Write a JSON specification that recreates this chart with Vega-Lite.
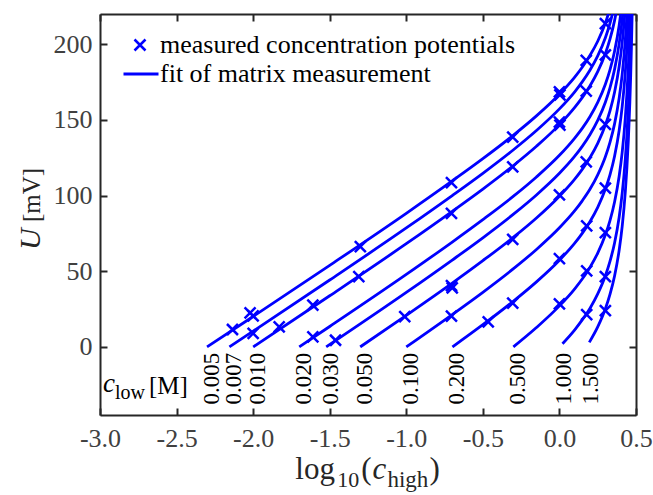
{
  "$schema": "https://vega.github.io/schema/vega-lite/v6.json",
  "width": 536,
  "height": 401,
  "autosize": {"type": "none"},
  "padding": {"left": 100, "top": 14, "right": 17, "bottom": 80},
  "background": "white",
  "datasets": {
    "fits": [
      {"c":"0.005","x":-2.301,"U":0},{"c":"0.005","x":-2.0,"U":20.1},{"c":"0.005","x":-1.5,"U":53.9},{"c":"0.005","x":-1.0,"U":88.3},{"c":"0.005","x":-0.7,"U":109.7},{"c":"0.005","x":-0.5,"U":124.4},{"c":"0.005","x":-0.3,"U":140.0},{"c":"0.005","x":-0.15,"U":152.7},{"c":"0.005","x":0,"U":167.0},{"c":"0.005","x":0.1,"U":178.3},{"c":"0.005","x":0.15,"U":185.0},{"c":"0.005","x":0.2,"U":192.7},{"c":"0.005","x":0.25,"U":202.0},{"c":"0.005","x":0.3,"U":214.0},{"c":"0.005","x":0.33,"U":223.5},
      {"c":"0.007","x":-2.155,"U":0},{"c":"0.007","x":-2.0,"U":10.4},{"c":"0.007","x":-1.5,"U":44.2},{"c":"0.007","x":-1.0,"U":78.6},{"c":"0.007","x":-0.7,"U":100.0},{"c":"0.007","x":-0.5,"U":114.7},{"c":"0.007","x":-0.3,"U":130.3},{"c":"0.007","x":-0.15,"U":143.0},{"c":"0.007","x":0,"U":157.3},{"c":"0.007","x":0.1,"U":168.6},{"c":"0.007","x":0.15,"U":175.3},{"c":"0.007","x":0.2,"U":183.0},{"c":"0.007","x":0.25,"U":192.3},{"c":"0.007","x":0.3,"U":204.3},{"c":"0.007","x":0.33,"U":213.8},{"c":"0.007","x":0.36,"U":226.0},
      {"c":"0.010","x":-2.0,"U":0},{"c":"0.010","x":-1.5,"U":33.8},{"c":"0.010","x":-1.0,"U":68.2},{"c":"0.010","x":-0.7,"U":89.6},{"c":"0.010","x":-0.5,"U":104.3},{"c":"0.010","x":-0.3,"U":119.9},{"c":"0.010","x":-0.15,"U":132.6},{"c":"0.010","x":0,"U":146.9},{"c":"0.010","x":0.1,"U":158.3},{"c":"0.010","x":0.15,"U":164.9},{"c":"0.010","x":0.2,"U":172.6},{"c":"0.010","x":0.25,"U":181.9},{"c":"0.010","x":0.3,"U":193.9},{"c":"0.010","x":0.33,"U":203.4},{"c":"0.010","x":0.36,"U":215.6},{"c":"0.010","x":0.39,"U":232.6},
      {"c":"0.020","x":-1.699,"U":0},{"c":"0.020","x":-1.5,"U":13.5},{"c":"0.020","x":-1.0,"U":47.9},{"c":"0.020","x":-0.7,"U":69.3},{"c":"0.020","x":-0.5,"U":84.1},{"c":"0.020","x":-0.3,"U":99.6},{"c":"0.020","x":-0.15,"U":112.3},{"c":"0.020","x":0,"U":126.6},{"c":"0.020","x":0.1,"U":138.0},{"c":"0.020","x":0.15,"U":144.6},{"c":"0.020","x":0.2,"U":152.3},{"c":"0.020","x":0.25,"U":161.6},{"c":"0.020","x":0.3,"U":173.6},{"c":"0.020","x":0.33,"U":183.1},{"c":"0.020","x":0.36,"U":195.4},{"c":"0.020","x":0.39,"U":212.4},{"c":"0.020","x":0.41,"U":228.3},
      {"c":"0.030","x":-1.523,"U":0},{"c":"0.030","x":-1.0,"U":36.0},{"c":"0.030","x":-0.7,"U":57.4},{"c":"0.030","x":-0.5,"U":72.1},{"c":"0.030","x":-0.3,"U":87.7},{"c":"0.030","x":-0.15,"U":100.4},{"c":"0.030","x":0,"U":114.7},{"c":"0.030","x":0.1,"U":126.0},{"c":"0.030","x":0.15,"U":132.7},{"c":"0.030","x":0.2,"U":140.4},{"c":"0.030","x":0.25,"U":149.7},{"c":"0.030","x":0.3,"U":161.7},{"c":"0.030","x":0.33,"U":171.2},{"c":"0.030","x":0.36,"U":183.4},{"c":"0.030","x":0.39,"U":200.4},{"c":"0.030","x":0.41,"U":216.3},{"c":"0.030","x":0.43,"U":238.7},
      {"c":"0.050","x":-1.301,"U":0},{"c":"0.050","x":-1.0,"U":20.9},{"c":"0.050","x":-0.7,"U":42.2},{"c":"0.050","x":-0.5,"U":57.0},{"c":"0.050","x":-0.3,"U":72.5},{"c":"0.050","x":-0.15,"U":85.2},{"c":"0.050","x":0,"U":99.6},{"c":"0.050","x":0.1,"U":110.9},{"c":"0.050","x":0.15,"U":117.5},{"c":"0.050","x":0.2,"U":125.2},{"c":"0.050","x":0.25,"U":134.5},{"c":"0.050","x":0.3,"U":146.6},{"c":"0.050","x":0.33,"U":156.0},{"c":"0.050","x":0.36,"U":168.3},{"c":"0.050","x":0.39,"U":185.3},{"c":"0.050","x":0.41,"U":201.2},{"c":"0.050","x":0.43,"U":223.5},
      {"c":"0.100","x":-1.0,"U":0},{"c":"0.100","x":-0.7,"U":21.4},{"c":"0.100","x":-0.5,"U":36.1},{"c":"0.100","x":-0.3,"U":51.7},{"c":"0.100","x":-0.15,"U":64.4},{"c":"0.100","x":0,"U":78.7},{"c":"0.100","x":0.1,"U":90.0},{"c":"0.100","x":0.15,"U":96.7},{"c":"0.100","x":0.2,"U":104.3},{"c":"0.100","x":0.25,"U":113.7},{"c":"0.100","x":0.3,"U":125.7},{"c":"0.100","x":0.33,"U":135.2},{"c":"0.100","x":0.36,"U":147.4},{"c":"0.100","x":0.39,"U":164.4},{"c":"0.100","x":0.41,"U":180.3},{"c":"0.100","x":0.43,"U":202.7},{"c":"0.100","x":0.44,"U":217.9},{"c":"0.100","x":0.45,"U":237.1},
      {"c":"0.200","x":-0.699,"U":0},{"c":"0.200","x":-0.5,"U":14.7},{"c":"0.200","x":-0.3,"U":30.3},{"c":"0.200","x":-0.15,"U":43.0},{"c":"0.200","x":0,"U":57.3},{"c":"0.200","x":0.1,"U":68.6},{"c":"0.200","x":0.15,"U":75.2},{"c":"0.200","x":0.2,"U":82.9},{"c":"0.200","x":0.25,"U":92.2},{"c":"0.200","x":0.3,"U":104.3},{"c":"0.200","x":0.33,"U":113.7},{"c":"0.200","x":0.36,"U":126.0},{"c":"0.200","x":0.39,"U":143.0},{"c":"0.200","x":0.41,"U":158.9},{"c":"0.200","x":0.43,"U":181.3},{"c":"0.200","x":0.44,"U":196.5},{"c":"0.200","x":0.45,"U":215.7},{"c":"0.200","x":0.46,"U":241.2},
      {"c":"0.500","x":-0.301,"U":0},{"c":"0.500","x":-0.15,"U":12.8},{"c":"0.500","x":0,"U":27.1},{"c":"0.500","x":0.1,"U":38.4},{"c":"0.500","x":0.15,"U":45.0},{"c":"0.500","x":0.2,"U":52.7},{"c":"0.500","x":0.25,"U":62.0},{"c":"0.500","x":0.3,"U":74.1},{"c":"0.500","x":0.33,"U":83.5},{"c":"0.500","x":0.36,"U":95.8},{"c":"0.500","x":0.39,"U":112.8},{"c":"0.500","x":0.41,"U":128.7},{"c":"0.500","x":0.43,"U":151.1},{"c":"0.500","x":0.44,"U":166.3},{"c":"0.500","x":0.45,"U":185.5},{"c":"0.500","x":0.46,"U":211.0},{"c":"0.500","x":0.47,"U":246.4},
      {"c":"1.000","x":0.02,"U":2.1},{"c":"1.000","x":0.1,"U":11.3},{"c":"1.000","x":0.15,"U":18.0},{"c":"1.000","x":0.2,"U":25.6},{"c":"1.000","x":0.25,"U":35.0},{"c":"1.000","x":0.3,"U":47.0},{"c":"1.000","x":0.33,"U":56.5},{"c":"1.000","x":0.36,"U":68.7},{"c":"1.000","x":0.39,"U":85.7},{"c":"1.000","x":0.41,"U":101.6},{"c":"1.000","x":0.43,"U":124.0},{"c":"1.000","x":0.44,"U":139.2},{"c":"1.000","x":0.45,"U":158.4},{"c":"1.000","x":0.46,"U":183.9},{"c":"1.000","x":0.465,"U":200.0},{"c":"1.000","x":0.47,"U":219.3},{"c":"1.000","x":0.475,"U":242.8},
      {"c":"1.500","x":0.195,"U":3.0},{"c":"1.500","x":0.25,"U":13.2},{"c":"1.500","x":0.3,"U":25.2},{"c":"1.500","x":0.33,"U":34.7},{"c":"1.500","x":0.36,"U":46.9},{"c":"1.500","x":0.39,"U":63.9},{"c":"1.500","x":0.41,"U":79.8},{"c":"1.500","x":0.43,"U":102.2},{"c":"1.500","x":0.44,"U":117.4},{"c":"1.500","x":0.45,"U":136.6},{"c":"1.500","x":0.46,"U":162.1},{"c":"1.500","x":0.465,"U":178.2},{"c":"1.500","x":0.47,"U":197.5},{"c":"1.500","x":0.475,"U":221.0},{"c":"1.500","x":0.48,"U":250.3}
    ],
    "meas": [
      {"c":"0.005","x":-2.135,"U":11.5},{"c":"0.005","x":-2.02,"U":22.5},{"c":"0.005","x":-2.0,"U":20.5},{"c":"0.005","x":-1.3,"U":66.2},{"c":"0.005","x":-0.705,"U":108.6},{"c":"0.005","x":-0.305,"U":138.7},{"c":"0.005","x":0,"U":168.5},{"c":"0.005","x":0.003,"U":166.5},{"c":"0.005","x":0.175,"U":189.4},{"c":"0.005","x":0.3,"U":213.7},
      {"c":"0.007","x":-2.0,"U":8.9},
      {"c":"0.010","x":-1.83,"U":13.3},{"c":"0.010","x":-1.61,"U":27.6},{"c":"0.010","x":-1.31,"U":46.4},{"c":"0.010","x":-0.705,"U":88.3},{"c":"0.010","x":-0.305,"U":119.0},{"c":"0.010","x":0,"U":148.5},{"c":"0.010","x":0.003,"U":146.5},{"c":"0.010","x":0.175,"U":169.0},{"c":"0.010","x":0.3,"U":193.0},
      {"c":"0.020","x":-1.61,"U":6.6},
      {"c":"0.030","x":-1.462,"U":4.4},
      {"c":"0.050","x":-1.01,"U":20.0},{"c":"0.050","x":-0.705,"U":40.5},{"c":"0.050","x":-0.7,"U":39.0},{"c":"0.050","x":-0.305,"U":71.0},{"c":"0.050","x":0,"U":100.4},{"c":"0.050","x":0.175,"U":122.3},{"c":"0.050","x":0.3,"U":147.0},
      {"c":"0.100","x":-0.705,"U":20.3},
      {"c":"0.200","x":-0.465,"U":16.6},{"c":"0.200","x":-0.305,"U":29.0},{"c":"0.200","x":0,"U":58.3},{"c":"0.200","x":0.178,"U":80.0},{"c":"0.200","x":0.3,"U":105.0},
      {"c":"0.500","x":0,"U":28.5},{"c":"0.500","x":0.178,"U":50.3},{"c":"0.500","x":0.3,"U":75.5},
      {"c":"1.000","x":0.178,"U":21.3},{"c":"1.000","x":0.3,"U":46.5},
      {"c":"1.500","x":0.3,"U":24.0}
    ],
    "labels": [
      {"label":"0.005","x0":-2.301},{"label":"0.007","x0":-2.155},{"label":"0.010","x0":-2.0},{"label":"0.020","x0":-1.699},{"label":"0.030","x0":-1.523},{"label":"0.050","x0":-1.301},{"label":"0.100","x0":-1.0},{"label":"0.200","x0":-0.699},{"label":"0.500","x0":-0.301},{"label":"1.000","x0":0.0},{"label":"1.500","x0":0.176}
    ],
    "one": [{}]
  },
  "layer": [
    {
      "data": {"name": "fits"},
      "mark": {"type": "line", "strokeWidth": 2.8, "clip": true, "interpolate": "monotone"},
      "encoding": {
        "x": {"field": "x", "type": "quantitative", "scale": {"domain": [-3, 0.5], "nice": false, "zero": false},
              "axis": {"orient": "bottom", "title": null, "values": [-3, -2.5, -2, -1.5, -1, -0.5, 0, 0.5], "labelExpr": "replace(format(datum.value, '.1f'), '\u2212', '-')", "labelFlush": false, "labelOverlap": false, "labelPadding": 17, "labelFont": "Liberation Serif", "labelFontSize": 26, "labelColor": "#404040"}},
        "y": {"field": "U", "type": "quantitative", "scale": {"domain": [-45, 220], "nice": false, "zero": false},
              "axis": {"orient": "left", "title": null, "values": [0, 50, 100, 150, 200], "format": "d", "labelPadding": 15, "labelFlush": false, "labelOverlap": false, "labelFont": "Liberation Serif", "labelFontSize": 26, "labelColor": "#404040"}},
        "detail": {"field": "c", "type": "nominal"},
        "color": {"datum": "fit of matrix measurement", "type": "nominal", "scale": {"range": ["#0000ff"]},
                  "legend": {"orient": "none", "legendX": 22, "legendY": 41, "title": null, "padding": 0, "symbolType": "stroke", "symbolSize": 1225, "symbolStrokeWidth": 3, "symbolStrokeColor": "#0000ff", "labelOffset": 0, "labelFont": "Liberation Serif", "labelFontSize": 26, "labelColor": "#000000", "labelLimit": 800}}
      }
    },
    {
      "data": {"name": "meas"},
      "mark": {"type": "point", "filled": false, "color": "#0000ff", "size": 121, "strokeWidth": 2.5, "opacity": 1, "clip": true},
      "encoding": {
        "x": {"field": "x", "type": "quantitative", "scale": {"domain": [-3, 0.5], "nice": false, "zero": false},
              "axis": {"orient": "top", "title": null, "labels": false, "values": [-3, -2.5, -2, -1.5, -1, -0.5, 0, 0.5]}},
        "y": {"field": "U", "type": "quantitative", "scale": {"domain": [-45, 220], "nice": false, "zero": false},
              "axis": {"orient": "right", "title": null, "labels": false, "values": [0, 50, 100, 150, 200]}},
        "shape": {"datum": "measured concentration potentials", "type": "nominal", "scale": {"range": ["M-1,-1L1,1M-1,1L1,-1"]},
                  "legend": {"orient": "none", "legendX": 27, "legendY": 18, "title": null, "padding": 0, "symbolSize": 121, "symbolStrokeWidth": 2.5, "symbolStrokeColor": "#0000ff", "symbolFillColor": "transparent", "labelOffset": 7, "labelFont": "Liberation Serif", "labelFontSize": 26, "labelColor": "#000000", "labelLimit": 800}}
      }
    },
    {
      "data": {"name": "labels"},
      "mark": {"type": "text", "angle": 270, "align": "left", "baseline": "middle", "dy": 5, "font": "Liberation Serif", "fontSize": 23, "color": "#000000", "clip": false},
      "encoding": {
        "x": {"field": "x0", "type": "quantitative", "scale": {"domain": [-3, 0.5], "nice": false, "zero": false}, "axis": null},
        "y": {"datum": -38, "type": "quantitative", "scale": {"domain": [-45, 220], "nice": false, "zero": false}, "axis": null},
        "text": {"field": "label", "type": "nominal"}
      }
    },
    {
      "data": {"name": "one"},
      "mark": {"type": "text", "text": "c", "fontStyle": "italic", "align": "left", "baseline": "alphabetic", "font": "Liberation Serif", "fontSize": 27, "color": "#000000", "clip": false},
      "encoding": {
        "x": {"datum": -2.98, "type": "quantitative", "scale": {"domain": [-3, 0.5], "nice": false, "zero": false}, "axis": null},
        "y": {"datum": -30, "type": "quantitative", "scale": {"domain": [-45, 220], "nice": false, "zero": false}, "axis": null}
      }
    },
    {
      "data": {"name": "one"},
      "mark": {"type": "text", "text": "low", "align": "left", "baseline": "alphabetic", "font": "Liberation Serif", "fontSize": 20, "color": "#000000", "clip": false},
      "encoding": {
        "x": {"datum": -2.902, "type": "quantitative", "scale": {"domain": [-3, 0.5], "nice": false, "zero": false}, "axis": null},
        "y": {"datum": -34.6, "type": "quantitative", "scale": {"domain": [-45, 220], "nice": false, "zero": false}, "axis": null}
      }
    },
    {
      "data": {"name": "one"},
      "mark": {"type": "text", "text": "[M]", "align": "left", "baseline": "alphabetic", "font": "Liberation Serif", "fontSize": 25, "color": "#000000", "clip": false},
      "encoding": {
        "x": {"datum": -2.68, "type": "quantitative", "scale": {"domain": [-3, 0.5], "nice": false, "zero": false}, "axis": null},
        "y": {"datum": -31, "type": "quantitative", "scale": {"domain": [-45, 220], "nice": false, "zero": false}, "axis": null}
      }
    },
    {
      "data": {"name": "one"},
      "mark": {"type": "text", "text": "U", "fontStyle": "italic", "angle": 270, "align": "left", "baseline": "alphabetic", "font": "Liberation Serif", "fontSize": 30, "color": "#262626", "clip": false},
      "encoding": {
        "x": {"datum": -3.394, "type": "quantitative", "scale": {"domain": [-3, 0.5], "nice": false, "zero": false}, "axis": null},
        "y": {"datum": 64, "type": "quantitative", "scale": {"domain": [-45, 220], "nice": false, "zero": false}, "axis": null}
      }
    },
    {
      "data": {"name": "one"},
      "mark": {"type": "text", "text": "[mV]", "angle": 270, "align": "left", "baseline": "alphabetic", "font": "Liberation Serif", "fontSize": 25, "color": "#262626", "clip": false},
      "encoding": {
        "x": {"datum": -3.394, "type": "quantitative", "scale": {"domain": [-3, 0.5], "nice": false, "zero": false}, "axis": null},
        "y": {"datum": 82.5, "type": "quantitative", "scale": {"domain": [-45, 220], "nice": false, "zero": false}, "axis": null}
      }
    },
    {
      "data": {"name": "one"},
      "mark": {"type": "text", "text": "log", "align": "left", "baseline": "alphabetic", "font": "Liberation Serif", "fontSize": 31, "color": "#262626", "clip": false},
      "encoding": {
        "x": {"datum": -1.7243, "type": "quantitative", "scale": {"domain": [-3, 0.5], "nice": false, "zero": false}, "axis": null},
        "y": {"datum": -87, "type": "quantitative", "scale": {"domain": [-45, 220], "nice": false, "zero": false}, "axis": null}
      }
    },
    {
      "data": {"name": "one"},
      "mark": {"type": "text", "text": "10", "align": "left", "baseline": "alphabetic", "font": "Liberation Serif", "fontSize": 22, "color": "#262626", "clip": false},
      "encoding": {
        "x": {"datum": -1.4506, "type": "quantitative", "scale": {"domain": [-3, 0.5], "nice": false, "zero": false}, "axis": null},
        "y": {"datum": -92.3, "type": "quantitative", "scale": {"domain": [-45, 220], "nice": false, "zero": false}, "axis": null}
      }
    },
    {
      "data": {"name": "one"},
      "mark": {"type": "text", "text": "(", "align": "left", "baseline": "alphabetic", "font": "Liberation Serif", "fontSize": 31, "color": "#262626", "clip": false},
      "encoding": {
        "x": {"datum": -1.2934, "type": "quantitative", "scale": {"domain": [-3, 0.5], "nice": false, "zero": false}, "axis": null},
        "y": {"datum": -87, "type": "quantitative", "scale": {"domain": [-45, 220], "nice": false, "zero": false}, "axis": null}
      }
    },
    {
      "data": {"name": "one"},
      "mark": {"type": "text", "text": "c", "fontStyle": "italic", "align": "left", "baseline": "alphabetic", "font": "Liberation Serif", "fontSize": 31, "color": "#262626", "clip": false},
      "encoding": {
        "x": {"datum": -1.2214, "type": "quantitative", "scale": {"domain": [-3, 0.5], "nice": false, "zero": false}, "axis": null},
        "y": {"datum": -87, "type": "quantitative", "scale": {"domain": [-45, 220], "nice": false, "zero": false}, "axis": null}
      }
    },
    {
      "data": {"name": "one"},
      "mark": {"type": "text", "text": "high", "align": "left", "baseline": "alphabetic", "font": "Liberation Serif", "fontSize": 23, "color": "#262626", "clip": false},
      "encoding": {
        "x": {"datum": -1.1231, "type": "quantitative", "scale": {"domain": [-3, 0.5], "nice": false, "zero": false}, "axis": null},
        "y": {"datum": -92.3, "type": "quantitative", "scale": {"domain": [-45, 220], "nice": false, "zero": false}, "axis": null}
      }
    },
    {
      "data": {"name": "one"},
      "mark": {"type": "text", "text": ")", "align": "left", "baseline": "alphabetic", "font": "Liberation Serif", "fontSize": 31, "color": "#262626", "clip": false},
      "encoding": {
        "x": {"datum": -0.8481, "type": "quantitative", "scale": {"domain": [-3, 0.5], "nice": false, "zero": false}, "axis": null},
        "y": {"datum": -87, "type": "quantitative", "scale": {"domain": [-45, 220], "nice": false, "zero": false}, "axis": null}
      }
    }
  ],
  "resolve": {"axis": {"x": "independent", "y": "independent"}},
  "config": {
    "font": "Liberation Serif",
    "view": {"stroke": null},
    "legend": {"labelFont": "Liberation Serif", "labelFontSize": 26},
    "axis": {
      "grid": false,
      "domainColor": "#262626",
      "domainWidth": 2,
      "tickColor": "#262626",
      "tickWidth": 2,
      "tickSize": -7,
      "labelFont": "Liberation Serif",
      "labelFontSize": 26,
      "labelColor": "#404040"
    }
  }
}
